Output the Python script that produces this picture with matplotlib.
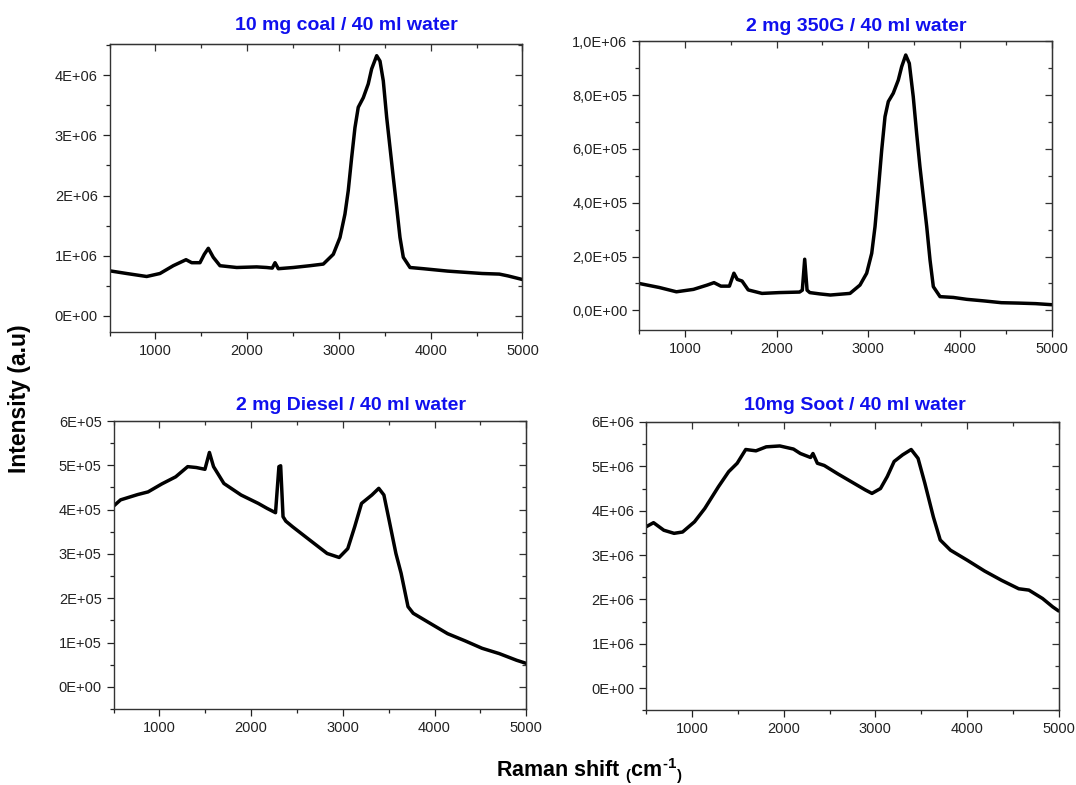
import matplotlib
matplotlib.use("Agg")
import matplotlib.pyplot as plt
from matplotlib.ticker import FuncFormatter, MultipleLocator

plt.rcParams['font.family'] = ['Liberation Sans', 'DejaVu Sans']
plt.rcParams['mathtext.fontset'] = 'custom'
plt.rcParams['mathtext.rm'] = 'Liberation Sans:bold'
plt.rcParams['mathtext.default'] = 'rm'

# ---------------- data ----------------
coal_x = [500, 687, 905, 1050, 1195, 1334, 1396, 1486, 1533, 1577, 1631, 1704, 1886, 2104, 2213,
          2274, 2304, 2340, 2503, 2685, 2830, 2939, 3012, 3066, 3102, 3139, 3175, 3211, 3266, 3320,
          3357, 3412, 3448, 3484, 3521, 3557, 3593, 3630, 3666, 3702, 3775, 3920, 4185, 4373, 4561,
          4749, 4843, 5000]
coal_y = [0.745e6, 0.70e6, 0.65e6, 0.70e6, 0.83e6, 0.93e6, 0.88e6, 0.88e6, 1.02e6, 1.12e6, 0.97e6,
          0.83e6, 0.80e6, 0.81e6, 0.80e6, 0.79e6, 0.88e6, 0.78e6, 0.80e6, 0.83e6, 0.857e6, 1.02e6,
          1.30e6, 1.69e6, 2.08e6, 2.63e6, 3.13e6, 3.47e6, 3.63e6, 3.86e6, 4.11e6, 4.33e6, 4.24e6,
          3.91e6, 3.30e6, 2.80e6, 2.30e6, 1.80e6, 1.30e6, 0.97e6, 0.80e6, 0.78e6, 0.74e6, 0.72e6,
          0.70e6, 0.69e6, 0.66e6, 0.60e6]

g350_x = [500, 720, 907, 1093, 1243, 1317, 1392, 1485, 1534, 1571, 1623, 1690, 1840, 2026, 2250,
          2280, 2306, 2332, 2362, 2474, 2586, 2800, 2909, 2982, 3037, 3073, 3109, 3146, 3182, 3218,
          3272, 3327, 3364, 3408, 3447, 3490, 3527, 3563, 3600, 3637, 3673, 3709, 3782, 3927, 4073,
          4265, 4451, 4638, 4825, 5000]
g350_y = [0.100e6, 0.085e6, 0.069e6, 0.078e6, 0.094e6, 0.103e6, 0.090e6, 0.090e6, 0.138e6, 0.115e6,
          0.109e6, 0.076e6, 0.063e6, 0.066e6, 0.068e6, 0.075e6, 0.190e6, 0.075e6, 0.066e6, 0.061e6,
          0.057e6, 0.063e6, 0.094e6, 0.138e6, 0.212e6, 0.311e6, 0.447e6, 0.596e6, 0.720e6, 0.776e6,
          0.807e6, 0.856e6, 0.906e6, 0.949e6, 0.918e6, 0.794e6, 0.658e6, 0.534e6, 0.422e6, 0.311e6,
          0.187e6, 0.088e6, 0.051e6, 0.048e6, 0.041e6, 0.035e6, 0.0285e6, 0.027e6, 0.025e6, 0.021e6]

diesel_x = [500, 576, 763, 876, 1026, 1177, 1308, 1402, 1496, 1545, 1590, 1703, 1890, 2078, 2172,
            2266, 2303, 2322, 2348, 2378, 2454, 2641, 2829, 2960, 3054, 3129, 3204, 3317, 3392, 3448,
            3504, 3579, 3636, 3711, 3768, 3955, 4143, 4331, 4519, 4707, 4895, 5000]
diesel_y = [4.08e5, 4.22e5, 4.34e5, 4.40e5, 4.58e5, 4.74e5, 4.97e5, 4.95e5, 4.91e5, 5.29e5, 4.97e5,
            4.59e5, 4.33e5, 4.14e5, 4.03e5, 3.93e5, 4.97e5, 4.99e5, 3.84e5, 3.74e5, 3.61e5, 3.31e5,
            3.01e5, 2.92e5, 3.12e5, 3.61e5, 4.14e5, 4.33e5, 4.48e5, 4.33e5, 3.77e5, 3.01e5, 2.56e5,
            1.81e5, 1.66e5, 1.43e5, 1.20e5, 1.04e5, 0.87e5, 0.75e5, 0.60e5, 0.53e5]

soot_x = [500, 579, 691, 803, 896, 1026, 1138, 1287, 1399, 1492, 1585, 1697, 1809, 1957, 2106, 2181,
          2293, 2319, 2367, 2442, 2591, 2740, 2889, 2963, 3056, 3130, 3205, 3298, 3391, 3466, 3540,
          3633, 3708, 3820, 4006, 4192, 4378, 4565, 4676, 4825, 4937, 5000]
soot_y = [3.64e6, 3.73e6, 3.56e6, 3.49e6, 3.52e6, 3.75e6, 4.05e6, 4.54e6, 4.88e6, 5.07e6, 5.38e6,
          5.35e6, 5.44e6, 5.46e6, 5.39e6, 5.29e6, 5.20e6, 5.29e6, 5.07e6, 5.02e6, 4.83e6, 4.65e6,
          4.47e6, 4.39e6, 4.50e6, 4.77e6, 5.11e6, 5.26e6, 5.38e6, 5.18e6, 4.62e6, 3.86e6, 3.34e6,
          3.11e6, 2.88e6, 2.64e6, 2.43e6, 2.24e6, 2.21e6, 2.02e6, 1.83e6, 1.74e6]

titles = ["10 mg coal / 40 ml water", "2 mg 350G / 40 ml water",
          "2 mg Diesel / 40 ml water", "10mg Soot / 40 ml water"]
xticks = [1000, 2000, 3000, 4000, 5000]

# ---------------- figure ----------------
W, H = 1076, 785
fig = plt.figure(figsize=(W / 100, H / 100), dpi=100)

# axes boxes in pixels: left, right, top, bottom
boxes = [(109.5, 522.4, 44.3, 332.3),
         (639.1, 1051.7, 41.3, 330.0),
         (113.6, 526.2, 421.0, 709.0),
         (646.3, 1058.6, 422.0, 710.3)]
ylims = [(-0.28e6, 4.52e6), (-0.073e6, 1.0e6), (-0.5e5, 6.0e5), (-0.5e6, 6.0e6)]
ymaj = [1e6, 2e5, 1e5, 1e6]
title_x = [0.574, 0.526, 0.576, 0.507]
title_dy = [19, 15, 16, 16]

def fmt_e(v, pos):
    return f"{v:.0E}"

def fmt_comma(v, pos):
    return f"{v:.1E}".replace('.', ',')

datasets = [(coal_x, coal_y), (g350_x, g350_y), (diesel_x, diesel_y), (soot_x, soot_y)]

for i, (xs, ys) in enumerate(datasets):
    l, r, t, b = boxes[i]
    ax = fig.add_axes([l / W, 1 - b / H, (r - l) / W, (b - t) / H])
    ax.plot(xs, ys, color='black', lw=2.5, solid_joinstyle='round', solid_capstyle='round')
    ax.set_xlim(500, 5000)
    ax.set_ylim(*ylims[i])
    ax.set_xticks(xticks)
    ax.xaxis.set_minor_locator(MultipleLocator(500))
    ax.yaxis.set_major_locator(MultipleLocator(ymaj[i]))
    ax.yaxis.set_minor_locator(MultipleLocator(ymaj[i] / 2))
    ax.yaxis.set_major_formatter(FuncFormatter(fmt_comma if i == 1 else fmt_e))
    ax.tick_params(axis='both', which='both', direction='out', top=False, right=False,
                   labelsize=10.5, colors='#222222', width=0.9)
    ax.tick_params(which='major', length=5)
    ax.tick_params(which='minor', length=3)
    for s in ax.spines.values():
        s.set_linewidth(1.0)
        s.set_color('#333333')
    ax2 = ax.secondary_xaxis('top')
    ax2.set_xticks(xticks)
    ax2.xaxis.set_minor_locator(MultipleLocator(500))
    ax2.tick_params(which='both', direction='in', labeltop=False, width=0.9, colors='#333333')
    ax2.tick_params(which='major', length=5)
    ax2.tick_params(which='minor', length=3)
    ax3 = ax.secondary_yaxis('right')
    ax3.yaxis.set_major_locator(MultipleLocator(ymaj[i]))
    ax3.yaxis.set_minor_locator(MultipleLocator(ymaj[i] / 2))
    ax3.tick_params(which='both', direction='in', labelright=False, width=0.9, colors='#333333')
    ax3.tick_params(which='major', length=5)
    ax3.tick_params(which='minor', length=3)
    ax.text(title_x[i], 1.0 + title_dy[i] / (b - t), titles[i], transform=ax.transAxes,
            ha='center', va='center', color='#1010ee', fontsize=14, fontweight='bold')

fig.text(0.018, 0.492, "Intensity (a.u)", rotation=90, ha='center', va='center',
         fontsize=16.5, fontweight='bold')
fig.text(0.548, 0.019, r"Raman shift $_{\mathregular{(}}$cm$^{\text{-1}}$$_{\mathregular{)}}$",
         ha='center', va='center', fontsize=15.5, fontweight='bold')

fig.savefig("out.png", dpi=100)
